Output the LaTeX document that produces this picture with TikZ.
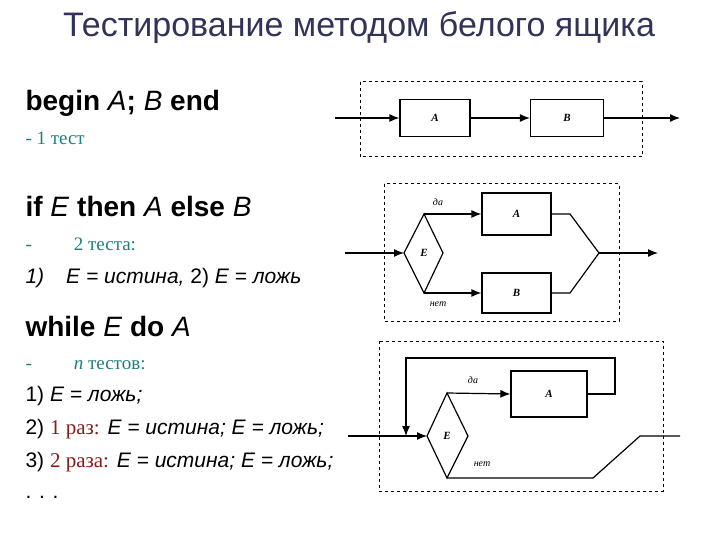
\documentclass[tikz,border=0pt]{standalone}
\usepackage{fontspec}
\setmainfont{Liberation Serif}
\setsansfont{Liberation Sans}
\usetikzlibrary{arrows.meta}
\definecolor{ttl}{HTML}{33335A}
\definecolor{teal2}{HTML}{1E7F7A}
\definecolor{red2}{HTML}{8B1A1A}
\tikzset{
 box/.style={draw,line width=1.2pt,minimum width=70pt,minimum height=38pt,inner sep=0pt,font=\rmfamily\bfseries\itshape\fontsize{11}{11}\selectfont},
 dbox/.style={draw,dashed,line width=1pt},
 ln/.style={line width=1.2pt},
 ar/.style={line width=1.2pt,-{Latex[length=10pt,width=8pt]}},
 head/.style={anchor=base west,font=\sffamily\bfseries\fontsize{28}{28}\selectfont},
 sub/.style={anchor=base west,text=teal2,font=\rmfamily\fontsize{19}{19}\selectfont},
 itm/.style={anchor=base west,font=\sffamily\fontsize{21}{21}\selectfont},
 lbl/.style={font=\rmfamily\itshape\fontsize{10}{10}\selectfont},
}
\begin{document}
\begin{tikzpicture}[x=1pt,y=-1pt]
\useasboundingbox (0,0) rectangle (720,540);
\node[text=ttl,font=\sffamily\fontsize{34}{34}\selectfont] (title) at (359,28) {Тестирование методом белого ящика};
% left text
\node[head] (h1) at (22,111) {begin \textmd{\itshape A}; \textmd{\itshape B} end};
\node[sub] (s1) at (22,145) {- 1 тест};
\node[head] (h2) at (22,217) {if \textmd{\itshape E} then \textmd{\itshape A} else \textmd{\itshape B}};
\node[sub] (s2) at (22,250) {-\hspace{42pt}2 теста:};
\node[itm] (i2) at (22,283) {\itshape 1)\hspace{22pt}E = истина, \upshape 2) \itshape E = ложь};
\node[head] (h3) at (22,336) {while \textmd{\itshape E} do \textmd{\itshape A}};
\node[sub] (s3) at (22,369) {-\hspace{42pt}{\itshape n} тестов:};
\node[itm] (i31) at (22,401) {1) \itshape E = ложь;};
\node[itm] (i32) at (22,434) {2) {\rmfamily\color{red2}1 раз:} \itshape E = истина; E = ложь;};
\node[itm] (i33) at (22,467) {3) {\rmfamily\color{red2}2 раза:} \itshape E = истина; E = ложь;};
\node[itm] (i34) at (22,498) {. . .};
% diagram 1
\draw[dbox] (360,82) rectangle (642,157);
\node[box,minimum width=70pt,minimum height=37pt] (A1) at (435,118) {A};
\node[box,minimum width=73pt,minimum height=37pt] (B1) at (567,118) {B};
\coordinate (in1) at (335,118);
\coordinate (out1) at (680,118);
\draw[ar] (in1) -- (A1);
\draw[ar] (A1) -- (B1);
\draw[ar] (B1) -- (out1);
% diagram 2
\draw[dbox] (384,184) rectangle (619,321);
\coordinate (E2w) at (404,253); \coordinate (E2n) at (424,214);
\coordinate (E2e) at (443,253); \coordinate (E2s) at (424,293);
\draw[ln] (E2w) -- (E2n) -- (E2e) -- (E2s) -- cycle;
\node[font=\rmfamily\bfseries\itshape\fontsize{11}{11}\selectfont] (E2) at (424,253) {E};
\node[box,minimum width=69pt,minimum height=42pt] (A2) at (516.5,214) {A};
\node[box,minimum width=69pt,minimum height=40pt] (B2) at (516.5,293) {B};
\coordinate (in2) at (345,253);
\coordinate (j2) at (599,253);
\coordinate (out2) at (658,253);
\draw[ar] (in2) -- (E2w);
\draw[ar] (E2n) -- (A2.west);
\draw[ar] (E2s) -- (B2.west);
\draw[ln] (A2.east) -- (570,214) -- (j2) -- (570,293) -- (B2.east);
\draw[ar] (j2) -- (out2);
\node[lbl] (da2) at (438,202) {да};
\node[lbl] (net2) at (438,304) {нет};
% diagram 3
\draw[dbox] (379,341) rectangle (663,491);
\coordinate (E3w) at (427,436); \coordinate (E3n) at (447,393);
\coordinate (E3e) at (468,436); \coordinate (E3s) at (447,478);
\draw[ln] (E3w) -- (E3n) -- (E3e) -- (E3s) -- cycle;
\node[font=\rmfamily\bfseries\itshape\fontsize{11}{11}\selectfont] (E3) at (447,436) {E};
\node[box,minimum width=76pt,minimum height=46pt] (A3) at (549,394) {A};
\coordinate (in3) at (348,436);
\coordinate (fb) at (406,436);
\draw[ar] (in3) -- (E3w);
\draw[ar] (E3n) -- (A3.west);
\draw[ar] (A3.east) -- (615,394) -- (615,358) -- (406,358) -- (fb);
\draw[ln] (E3s) -- (593,478) -- (640,436) -- (680,436);
\node[lbl] (da3) at (473,380) {да};
\node[lbl] (net3) at (482,464) {нет};
\end{tikzpicture}
\end{document}
